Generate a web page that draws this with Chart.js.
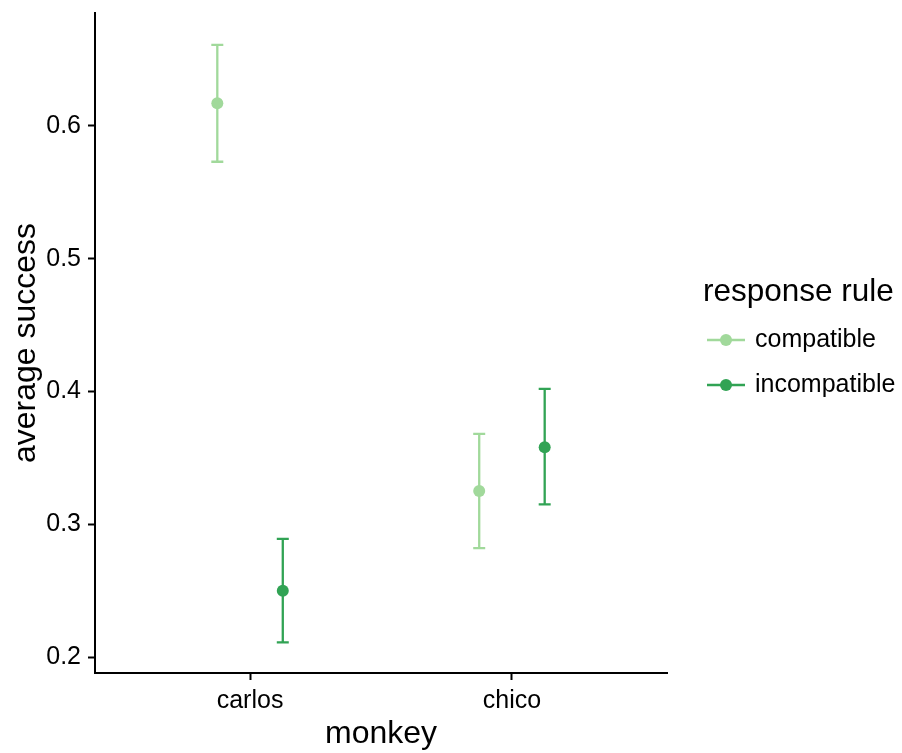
<!DOCTYPE html>
<html>
<head>
<meta charset="utf-8">
<script src="https://cdn.jsdelivr.net/npm/chart.js@4.4.1/dist/chart.umd.min.js"></script>
<style>
  body { margin: 0; background: #fff; }
  canvas { display: block; }
</style>
</head>
<body>
<canvas id="successChart" width="902" height="753"></canvas>
<script>
// data
var monkeys = ["carlos", "chico"];
var ruleNames = ["compatible", "incompatible"];
var compatibleMean = [0.617, 0.325];
var compatibleLow = [0.573, 0.282];
var compatibleHigh = [0.661, 0.368];
var incompatibleMean = [0.250, 0.358];
var incompatibleLow = [0.211, 0.315];
var incompatibleHigh = [0.289, 0.402];
var yTicks = [0.2, 0.3, 0.4, 0.5, 0.6];

var ruleColors = ["#a1d99b", "#31a354"];
var dodge = 0.125;
var fontName = "'Liberation Sans', Arial, sans-serif";

function makePoints(means, shift) {
  return means.map(function (m, i) {
    return { x: i + 1 + shift, y: m };
  });
}

var bars = [
  { low: compatibleLow, high: compatibleHigh, shift: -dodge, color: ruleColors[0] },
  { low: incompatibleLow, high: incompatibleHigh, shift: dodge, color: ruleColors[1] },
];

// error bars drawn under the points
var errorBarPlugin = {
  id: "errorBars",
  beforeDatasetsDraw: function (chart) {
    var ctx = chart.ctx;
    var xs = chart.scales.x;
    var ys = chart.scales.y;
    ctx.save();
    ctx.lineWidth = 2.3;
    bars.forEach(function (b) {
      ctx.strokeStyle = b.color;
      b.low.forEach(function (lo, i) {
        var px = xs.getPixelForValue(i + 1 + b.shift);
        var pLo = ys.getPixelForValue(lo);
        var pHi = ys.getPixelForValue(b.high[i]);
        ctx.beginPath();
        ctx.moveTo(px, pLo);
        ctx.lineTo(px, pHi);
        ctx.moveTo(px - 6, pLo);
        ctx.lineTo(px + 6, pLo);
        ctx.moveTo(px - 6, pHi);
        ctx.lineTo(px + 6, pHi);
        ctx.stroke();
      });
    });
    ctx.restore();
  },
};

// ggplot style legend on the right
var sideLegendPlugin = {
  id: "sideLegend",
  afterDraw: function (chart) {
    var ctx = chart.ctx;
    ctx.save();
    ctx.fillStyle = "#000";
    ctx.textBaseline = "alphabetic";
    ctx.font = "31.5px " + fontName;
    ctx.fillText("response rule", 703, 301);
    ctx.font = "25px " + fontName;
    ruleNames.forEach(function (name, i) {
      var y = 340 + i * 45;
      ctx.strokeStyle = ruleColors[i];
      ctx.fillStyle = ruleColors[i];
      ctx.lineWidth = 2.3;
      ctx.beginPath();
      ctx.moveTo(707, y);
      ctx.lineTo(745, y);
      ctx.stroke();
      ctx.beginPath();
      ctx.arc(726, y, 6, 0, Math.PI * 2);
      ctx.fill();
      ctx.fillStyle = "#000";
      ctx.textBaseline = "middle";
      ctx.fillText(name, 755, y);
    });
    ctx.restore();
  },
};

var ctx = document.getElementById("successChart").getContext("2d");

var chartData = {
  datasets: [
    {
      label: ruleNames[0],
      data: makePoints(compatibleMean, -dodge),
      backgroundColor: ruleColors[0],
      borderColor: ruleColors[0],
      pointRadius: 6,
      borderWidth: 0,
    },
    {
      label: ruleNames[1],
      data: makePoints(incompatibleMean, dodge),
      backgroundColor: ruleColors[1],
      borderColor: ruleColors[1],
      pointRadius: 6,
      borderWidth: 0,
    },
  ],
};

var myChart = new Chart(ctx, {
  type: "scatter",
  data: chartData,
  plugins: [errorBarPlugin, sideLegendPlugin],
  options: {
    responsive: false,
    animation: false,
    layout: { padding: { top: 13, right: 235, left: 0, bottom: 0 } },
    plugins: {
      legend: { display: false },
      tooltip: { enabled: false },
    },
    scales: {
      x: {
        type: "linear",
        min: 0.408,
        max: 2.592,
        afterBuildTicks: function (scale) {
          scale.ticks = monkeys.map(function (m, i) { return { value: i + 1 }; });
        },
        afterFit: function (scale) {
          scale.height = 80;
          scale.paddingLeft = 0;
          scale.paddingRight = 0;
        },
        grid: { drawOnChartArea: false, drawTicks: true, tickLength: 7, color: "#000", tickWidth: 2 },
        border: { display: true, color: "#000", width: 2 },
        ticks: {
          color: "#000",
          padding: 6,
          font: { family: fontName, size: 25 },
          callback: function (v) { return monkeys[v - 1]; },
        },
        title: {
          display: true,
          text: "monkey",
          color: "#000",
          font: { family: fontName, size: 32 },
          padding: { top: 0, bottom: 0 },
        },
      },
      y: {
        type: "linear",
        min: 0.188,
        max: 0.685,
        afterBuildTicks: function (scale) {
          scale.ticks = yTicks.map(function (v) { return { value: v }; });
        },
        afterFit: function (scale) {
          scale.width = 95;
          scale.paddingTop = 0;
          scale.paddingBottom = 0;
        },
        grid: { drawOnChartArea: false, drawTicks: true, tickLength: 7, color: "#000", tickWidth: 2 },
        border: { display: true, color: "#000", width: 2 },
        ticks: {
          color: "#000",
          padding: 7,
          font: { family: fontName, size: 25 },
          callback: function (v) { return v.toFixed(1); },
        },
        title: {
          display: true,
          text: "average success",
          color: "#000",
          font: { family: fontName, size: 32 },
          padding: { top: 7, bottom: 0 },
        },
      },
    },
  },
});
</script>
</body>
</html>
